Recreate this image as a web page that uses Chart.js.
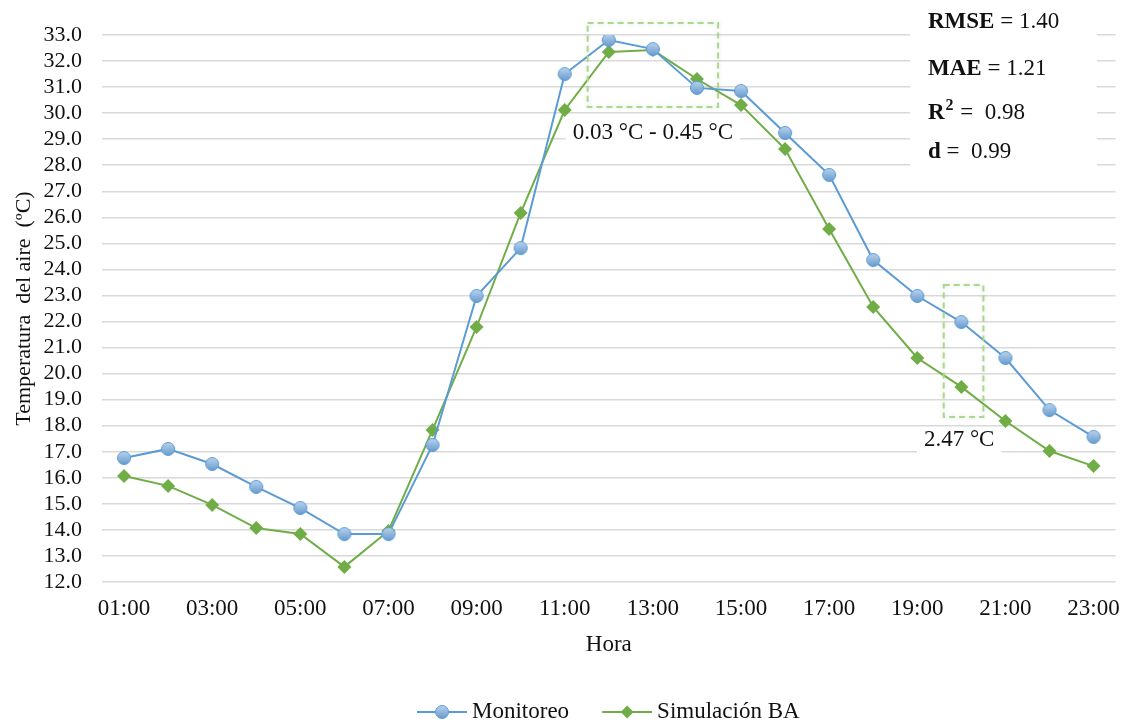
<!DOCTYPE html>
<html>
<head>
<meta charset="utf-8">
<script src="https://cdn.jsdelivr.net/npm/chart.js@4/dist/chart.umd.min.js"></script>
<style>
  html, body { margin: 0; padding: 0; background: #fff; }
  #wrap { width: 1133px; height: 723px; }
</style>
</head>
<body>
<div id="wrap"><canvas id="myChart" width="1133" height="723"></canvas></div>
<script>
var horas = ["01:00","02:00","03:00","04:00","05:00","06:00","07:00","08:00","09:00","10:00","11:00","12:00",
             "13:00","14:00","15:00","16:00","17:00","18:00","19:00","20:00","21:00","22:00","23:00"];
var monitoreo = [16.76, 17.11, 16.53, 15.65, 14.84, 13.84, 13.84, 17.26, 22.98, 24.82, 31.50, 32.81,
                 32.46, 30.97, 30.85, 29.24, 27.63, 24.36, 22.98, 21.98, 20.60, 18.60, 17.57];
var simulacion = [16.07, 15.69, 14.96, 14.07, 13.84, 12.58, 13.96, 17.84, 21.79, 26.17, 30.12, 32.35,
                  32.42, 31.31, 30.31, 28.62, 25.55, 22.56, 20.60, 19.49, 18.18, 17.03, 16.45];
var yTicks = { min: 12, max: 33, step: 1 };
var stats = [["RMSE", "= 1.40"], ["MAE", "= 1.21"], ["R", "=  0.98"], ["d", "=  0.99"]];

var AZUL = '#5b9bd5';
var VERDE = '#70ad47';
var TEXTO = '#111';
var SERIF = '"Liberation Serif", "Times New Roman", serif';

// marcador circular con degradado (como en Excel)
function circleImg() {
  var c = document.createElement('canvas');
  c.width = 16; c.height = 16;
  var g = c.getContext('2d');
  var grad = g.createLinearGradient(0, 1, 0, 15);
  grad.addColorStop(0, '#bcd5ee');
  grad.addColorStop(1, '#6499cc');
  g.beginPath();
  g.arc(8, 8, 6.5, 0, Math.PI * 2);
  g.fillStyle = grad;
  g.fill();
  g.lineWidth = 1;
  g.strokeStyle = '#5b9bd5';
  g.stroke();
  return c;
}
var puntoCirculo = circleImg();

function diamante(g, cx, cy, r) {
  g.beginPath();
  g.moveTo(cx, cy - r); g.lineTo(cx + r, cy); g.lineTo(cx, cy + r); g.lineTo(cx - r, cy); g.closePath();
  g.fill();
}

// cajas punteadas, textos, leyenda y titulo del eje x
var anotaciones = {
  id: 'anotaciones',
  afterDatasetsDraw: function(chart) {
    var ctx = chart.ctx;
    var x = chart.scales.x, y = chart.scales.y;
    var area = chart.chartArea;
    function px(i) { return x.getPixelForValue(0) + i * (x.getPixelForValue(1) - x.getPixelForValue(0)); }
    ctx.save();
    ctx.setLineDash([6, 4]);
    ctx.lineWidth = 2;
    ctx.strokeStyle = '#a9d98a';
    ctx.shadowColor = 'rgba(0,0,0,0.15)';
    ctx.shadowBlur = 4;
    ctx.strokeRect(px(10.52), y.getPixelForValue(33.46), px(13.48) - px(10.52), y.getPixelForValue(30.24) - y.getPixelForValue(33.46));
    ctx.strokeRect(px(18.6), y.getPixelForValue(23.4), px(19.5) - px(18.6), y.getPixelForValue(18.33) - y.getPixelForValue(23.4));
    ctx.restore();

    ctx.save();
    ctx.font = '23px ' + SERIF;
    ctx.textAlign = 'center';
    ctx.textBaseline = 'middle';
    var etiquetas = [["0.03 \u00B0C - 0.45 \u00B0C", px(12.0), y.getPixelForValue(29.25)],
                     ["2.47 \u00B0C", px(18.95), y.getPixelForValue(17.45)]];
    etiquetas.forEach(function(e) {
      var w = ctx.measureText(e[0]).width + 14;
      ctx.fillStyle = '#fff';
      ctx.fillRect(e[1] - w / 2, e[2] - 13, w, 26);
      ctx.fillStyle = TEXTO;
      ctx.fillText(e[0], e[1], e[2]);
    });

    // estadisticos
    ctx.fillStyle = '#fff';
    ctx.fillRect(910, 0, 187, 170);
    ctx.textAlign = 'left';
    ctx.textBaseline = 'alphabetic';
    var ys = [28, 75, 119, 158];
    stats.forEach(function(s, i) {
      var xx = 928;
      ctx.fillStyle = TEXTO;
      ctx.font = 'bold 23px ' + SERIF;
      ctx.fillText(s[0], xx, ys[i]);
      xx += ctx.measureText(s[0]).width;
      if (s[0] === 'R') {
        ctx.font = 'bold 16px ' + SERIF;
        ctx.fillText('2', xx + 1, ys[i] - 9);
        xx += ctx.measureText('2').width + 2;
      }
      ctx.font = '23px ' + SERIF;
      ctx.fillText(' ' + s[1], xx, ys[i]);
    });

    // titulo eje x
    ctx.textAlign = 'center';
    ctx.textBaseline = 'middle';
    ctx.font = '23px ' + SERIF;
    ctx.fillText('Hora', (area.left + area.right) / 2, 645);

    // leyenda
    var cy = 712;
    var items = [['Monitoreo', AZUL, 'c'], ['Simulación BA', VERDE, 'd']];
    var anchoTotal = 0;
    items.forEach(function(it) { anchoTotal += 56 + ctx.measureText(it[0]).width; });
    anchoTotal += 32;
    var lx = (area.left + area.right) / 2 - anchoTotal / 2;
    ctx.textAlign = 'left';
    items.forEach(function(it) {
      ctx.strokeStyle = it[1];
      ctx.lineWidth = 2;
      ctx.beginPath(); ctx.moveTo(lx, cy); ctx.lineTo(lx + 50, cy); ctx.stroke();
      if (it[2] === 'c') {
        ctx.drawImage(puntoCirculo, lx + 17, cy - 8);
      } else {
        ctx.fillStyle = it[1];
        diamante(ctx, lx + 25, cy, 6.5);
      }
      ctx.fillStyle = TEXTO;
      ctx.fillText(it[0], lx + 55, cy);
      lx += 56 + ctx.measureText(it[0]).width + 32;
    });
    ctx.restore();
  }
};

var ctx = document.getElementById('myChart');
var myChart = new Chart(ctx, {
  type: 'line',
  data: {
    labels: horas,
    datasets: [{
      label: 'Monitoreo',
      data: monitoreo,
      borderColor: AZUL,
      backgroundColor: AZUL,
      borderWidth: 2,
      pointStyle: puntoCirculo,
      tension: 0
    }, {
      label: 'Simulación BA',
      data: simulacion,
      borderColor: VERDE,
      backgroundColor: VERDE,
      borderWidth: 2,
      pointStyle: 'rectRot',
      pointRadius: 7,
      pointBorderWidth: 0,
      tension: 0
    }]
  },
  options: {
    responsive: false,
    animation: false,
    layout: { padding: { top: 35, right: 11, left: 9, bottom: 0 } },
    plugins: {
      tooltip: { enabled: false },
      legend: { display: false }
    },
    scales: {
      x: {
        offset: true,
        grid: { display: false, drawTicks: false },
        border: { display: false },
        afterFit: function(s) { s.height = 141; },
        ticks: {
          autoSkip: false,
          maxRotation: 0,
          color: TEXTO,
          font: { family: SERIF, size: 23 },
          padding: 13,
          callback: function(v, i) { return i % 2 === 0 ? horas[i] : ''; }
        }
      },
      y: {
        min: yTicks.min,
        max: yTicks.max,
        border: { display: false },
        grid: { color: '#d9d9d9', lineWidth: 1.5, drawTicks: false },
        afterFit: function(s) { s.width = 93; },
        ticks: {
          autoSkip: false,
          stepSize: yTicks.step,
          color: TEXTO,
          font: { family: SERIF, size: 22 },
          padding: 20,
          callback: function(v) { return v.toFixed(1); }
        },
        title: { display: true, text: 'Temperatura  del aire  (ºC)', color: TEXTO, font: { family: SERIF, size: 22 }, padding: 2 }
      }
    }
  },
  plugins: [anotaciones]
});
</script>
</body>
</html>
